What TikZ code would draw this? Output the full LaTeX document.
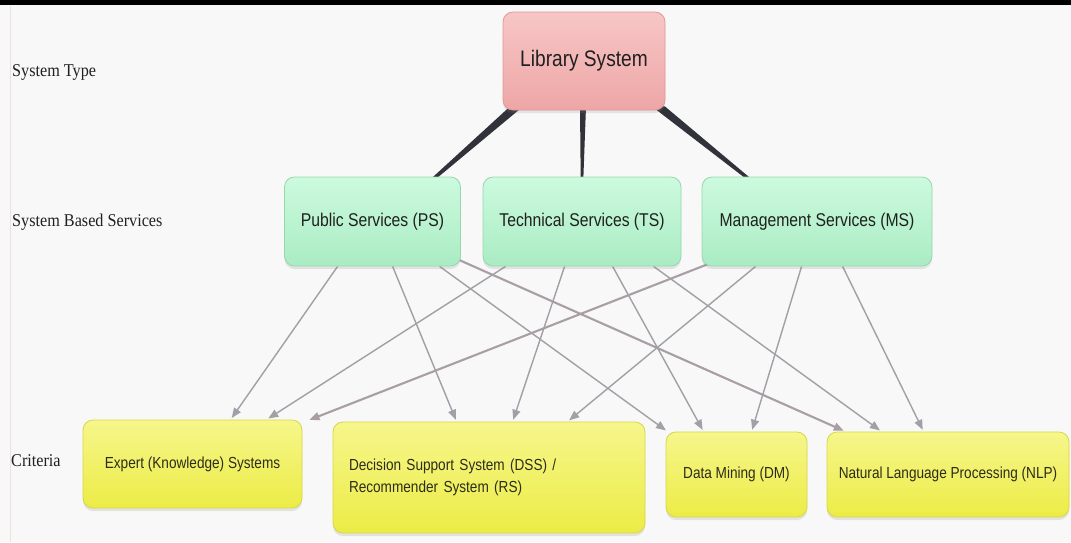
\documentclass[tikz,border=0pt]{standalone}
\usepackage{fontspec}
\setmainfont{Liberation Serif}
\newfontfamily\boxfont[FakeStretch=0.85]{Liberation Sans}
\newfontfamily\labfont[FakeStretch=0.9]{Liberation Serif}
\usetikzlibrary{arrows.meta,shadows,calc}
\pgfdeclarelayer{bg}
\pgfdeclarelayer{lines}
\pgfsetlayers{bg,lines,main}
\definecolor{bgc}{RGB}{248,248,248}
\definecolor{pinktop}{RGB}{247,198,198}
\definecolor{pinkbot}{RGB}{238,166,166}
\definecolor{pinkdraw}{RGB}{226,150,150}
\definecolor{greentop}{RGB}{204,250,222}
\definecolor{greenbot}{RGB}{170,236,195}
\definecolor{greendraw}{RGB}{150,215,175}
\definecolor{yeltop}{RGB}{246,246,140}
\definecolor{yelbot}{RGB}{236,236,70}
\definecolor{yeldraw}{RGB}{215,215,70}
\definecolor{arrc}{RGB}{160,160,166}
\definecolor{arrc2}{RGB}{168,158,164}
\definecolor{dkline}{RGB}{50,50,58}
\definecolor{txt}{RGB}{32,32,32}
\definecolor{ytxt}{RGB}{45,45,25}
\definecolor{faint}{RGB}{236,226,226}
\tikzset{
  basebox/.style={rounded corners=10pt, draw, line width=0.8pt, inner sep=0pt,
    align=center, drop shadow={shadow xshift=0pt, shadow yshift=-3pt, opacity=0.18}},
  lsbox/.style={basebox, top color=pinktop, bottom color=pinkbot, draw=pinkdraw,
    text=txt, font=\boxfont\fontsize{22.5}{27}\selectfont},
  svbox/.style={basebox, top color=greentop, bottom color=greenbot, draw=greendraw,
    text=txt, font=\boxfont\fontsize{18.5}{22}\selectfont, minimum height=89pt},
  crbox/.style={basebox, top color=yeltop, bottom color=yelbot, draw=yeldraw,
    text=ytxt, font=\boxfont\fontsize{16}{22}\selectfont},
  rowlabel/.style={anchor=west, inner sep=0pt, text=txt, font=\labfont\fontsize{18}{21}\selectfont},
  arr/.style={draw=arrc, line width=1.4pt, -{Triangle[length=10pt,width=8pt]}, shorten >=2pt},
  arrbk/.style={draw=arrc2, line width=2.1pt, -{Triangle[length=10pt,width=8pt]}, shorten >=2pt},
  taper/.style={fill=dkline}
}
\begin{document}
\begin{tikzpicture}[x=1pt,y=-1pt]
\useasboundingbox (0,0) rectangle (1071,542);
\begin{pgfonlayer}{bg}
  \fill[bgc] (0,0) rectangle (1071,542);
  \fill[black] (0,0) rectangle (1071,5);
  \draw[faint, line width=1pt] (10,6) -- (10,542);
\end{pgfonlayer}

% row labels
\node[rowlabel] (l1) at (12,72) {System Type};
\node[rowlabel] (l2) at (12,222) {System Based Services};
\node[rowlabel] (l3) at (11,461) {Criteria};

% nodes
\node[lsbox, minimum width=162pt, minimum height=98pt] (ls) at (584,61) {Library System};
\node[svbox, minimum width=176pt] (ps) at (372.5,221.5) {Public Services (PS)};
\node[svbox, minimum width=198pt] (ts) at (582,221.5) {Technical Services (TS)};
\node[svbox, minimum width=230pt] (ms) at (817,221.5) {Management Services (MS)};
\node[crbox, minimum width=219pt, minimum height=88pt] (ex) at (192.5,464) {Expert (Knowledge) Systems};
\node[crbox, text width=280pt, inner xsep=16pt, align=left, minimum height=111pt] (dss) at (489,477.5)
  {Decision Support System (DSS) /\\Recommender System (RS)};
\node[crbox, minimum width=141pt, minimum height=85pt] (dm) at (736.5,474.5) {Data Mining (DM)};
\node[crbox, minimum width=242pt, minimum height=85pt] (nlp) at (948,474.5) {Natural Language Processing (NLP)};

\begin{pgfonlayer}{lines}
  % tapered connectors from the library system
  \coordinate (a1) at ([xshift=14pt,yshift=4pt]ls.south west);
  \coordinate (b1) at ([xshift=148.5pt,yshift=-3pt]ps.north west);
  \coordinate (a2) at ([xshift=-1pt,yshift=4pt]ls.south);
  \coordinate (b2) at ([yshift=-3pt]ts.north);
  \coordinate (a3) at ([xshift=-7pt,yshift=4pt]ls.south east);
  \coordinate (b3) at ([xshift=48pt,yshift=-3pt]ms.north west);
  \fill[taper] ($(a1)+(-6.5,0)$) -- ($(a1)+(6.5,0)$) -- ($(b1)+(2.5,0)$) -- ($(b1)+(-2.5,0)$) -- cycle;
  \fill[taper] ($(a2)+(-3,0)$) -- ($(a2)+(3,0)$) -- ($(b2)+(1.3,0)$) -- ($(b2)+(-1.3,0)$) -- cycle;
  \fill[taper] ($(a3)+(-6.5,0)$) -- ($(a3)+(6.5,0)$) -- ($(b3)+(2.5,0)$) -- ($(b3)+(-2.5,0)$) -- cycle;

  % service -> criteria arrows
  \draw[arr] ([xshift=53.5pt]ps.south west) -- ([xshift=148pt]ex.north west);
  \draw[arr] ([xshift=108.5pt]ps.south west) -- ([xshift=124pt]dss.north west);
  \draw[arr] ([xshift=155.5pt]ps.south west) -- ([xshift=2pt]dm.north west);
  \draw[arrbk] (ps.center) -- ([xshift=19pt]nlp.north west);

  \draw[arr] ([xshift=23pt]ts.south west) -- ([xshift=184pt]ex.north west);
  \draw[arr] ([xshift=82pt]ts.south west) -- ([xshift=180pt]dss.north west);
  \draw[arr] ([xshift=130pt]ts.south west) -- ([xshift=38pt]dm.north west);
  \draw[arr] ([xshift=171pt]ts.south west) -- ([xshift=55pt]nlp.north west);

  \draw[arrbk] (ms.center) -- ([xshift=225pt,yshift=-1pt]ex.north west);
  \draw[arr] ([xshift=54pt]ms.south west) -- ([xshift=235pt]dss.north west);
  \draw[arr] ([xshift=100pt]ms.south west) -- ([xshift=86pt]dm.north west);
  \draw[arr] ([xshift=141pt]ms.south west) -- ([xshift=97pt]nlp.north west);
\end{pgfonlayer}
\end{tikzpicture}
\end{document}
